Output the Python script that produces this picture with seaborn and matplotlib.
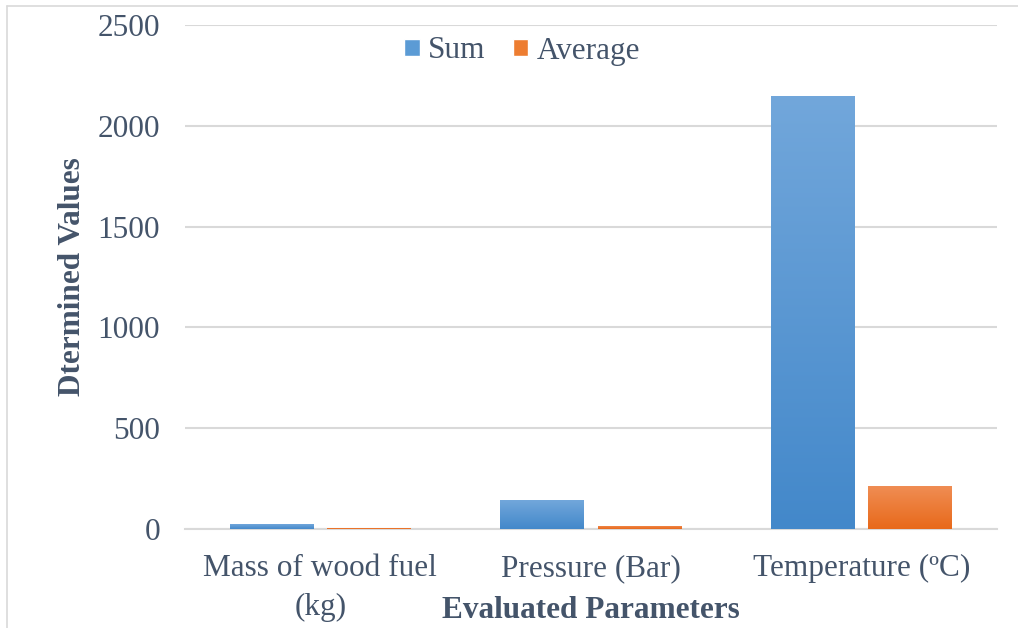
import numpy as np
import pandas as pd
import matplotlib
matplotlib.use("Agg")
import matplotlib.pyplot as plt
import seaborn as sns
from matplotlib.patches import Rectangle
from matplotlib.lines import Line2D
from matplotlib.colors import LinearSegmentedColormap

categories = ["Mass of wood fuel\n(kg)", "Pressure (Bar)", "Temperature (ºC)"]
series_names = ["Sum", "Average"]
sum_values = [24, 143, 2150]
avg_values = [5, 15, 215]
y_ticks = [0, 500, 1000, 1500, 2000, 2500]

sns.set_theme(style="white")
plt.rcParams["font.family"] = ["Liberation Serif", "DejaVu Serif"]

text_color = "#44546A"
grid_color = "#D9D9D9"
base_colors = {"Sum": "#5B9BD5", "Average": "#ED7D31"}
grad = {"Sum": ("#72A7DB", "#4388CA"), "Average": ("#F08E55", "#E8691A")}
fs = 22.5

df = pd.DataFrame({
    "Parameter": categories * 2,
    "Series": [series_names[0]] * 3 + [series_names[1]] * 3,
    "Value": sum_values + avg_values,
})

fig = plt.figure(figsize=(10.18, 6.28), dpi=100)
ax = fig.add_axes([185 / 1018, (628 - 529) / 628, (997 - 185) / 1018, (529 - 25) / 628])

sns.barplot(data=df, x="Parameter", y="Value", hue="Series", order=categories,
            hue_order=series_names, palette=base_colors, width=0.72, gap=0.14,
            ax=ax, legend=False, errorbar=None)

# gradient fill clipped to each bar
for container, name in zip(ax.containers, series_names):
    cmap = LinearSegmentedColormap.from_list(name, [grad[name][1], grad[name][0]])
    for patch in container.patches:
        x0, y0 = patch.get_x(), patch.get_y()
        w, h = patch.get_width(), patch.get_height()
        img = np.linspace(0, 1, 256).reshape(-1, 1)
        patch.set_zorder(3)
        im = ax.imshow(img, cmap=cmap, aspect="auto", origin="lower",
                       extent=[x0, x0 + w, y0, y0 + h], zorder=3.1,
                       interpolation="bilinear")
        im.set_clip_path(patch)
        patch.set_facecolor(grad[name][0])
        patch.set_edgecolor("none")
ax.set_aspect("auto")
ax.set_xlim(-0.5, 2.5)
ax.set_ylim(0, 2500)

ax.set_yticks(y_ticks)
ax.set_yticklabels([str(t) for t in y_ticks])
ax.yaxis.grid(True, color=grid_color, linewidth=1.5)
ax.set_axisbelow(True)
for s in ["top", "right", "left"]:
    ax.spines[s].set_visible(False)
ax.spines["bottom"].set_color(grid_color)
ax.spines["bottom"].set_linewidth(1.5)
ax.spines["bottom"].set_zorder(0.6)
ax.tick_params(axis="both", length=0, labelsize=fs, colors=text_color)
ax.tick_params(axis="y", pad=18)
ax.tick_params(axis="x", pad=18)
for lbl in ax.get_xticklabels():
    lbl.set_linespacing(1.45)

ax.set_ylabel("Dtermined Values", fontsize=fs, fontweight="bold", color=text_color, va="center")
ax.yaxis.set_label_coords(-0.1390, 0.5)
ax.set_xlabel("Evaluated Parameters", fontsize=fs, fontweight="bold", color=text_color, va="center")
ax.xaxis.set_label_coords(0.5, -0.161)

handles = [Rectangle((0, 0), 1, 1, facecolor=base_colors[n]) for n in series_names]
leg = ax.legend(handles, series_names, loc="center", bbox_to_anchor=(0.415, (529 - 51) / 504),
                ncol=2, frameon=False, fontsize=fs, handlelength=0.5, handleheight=0.5,
                handletextpad=0.26, columnspacing=0.87, borderaxespad=0.0, borderpad=0.0)
for t in leg.get_texts():
    t.set_color(text_color)

fig.lines.append(Line2D([7 / 1018, 1], [1 - 6 / 628, 1 - 6 / 628], transform=fig.transFigure,
                        color=grid_color, linewidth=1.2))
fig.lines.append(Line2D([7 / 1018, 7 / 1018], [0, 1 - 6 / 628], transform=fig.transFigure,
                        color=grid_color, linewidth=1.2))

fig.savefig("out.png", dpi=100)
